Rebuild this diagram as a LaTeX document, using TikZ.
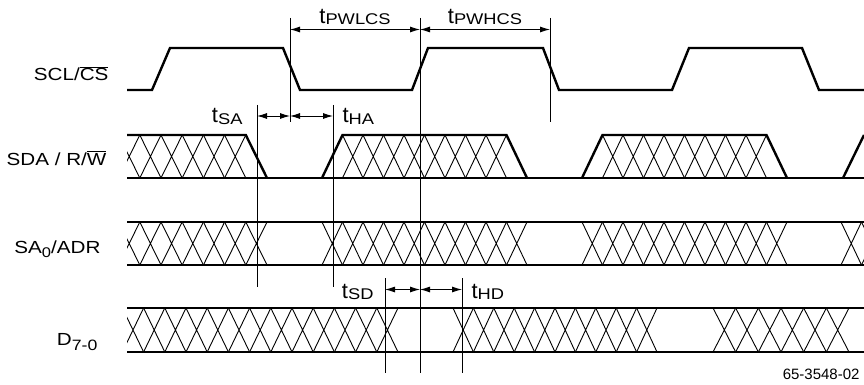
\documentclass[tikz,border=0pt]{standalone}
\usepackage{fontspec}
\setmainfont{Liberation Sans}
\newfontfamily\widefont{Liberation Sans}[FakeStretch=1.18]
\usetikzlibrary{arrows.meta}

\newcommand\siglab[1]{{\fontsize{17.5}{17.5}\widefont #1}}
\newcommand\tlab[1]{{\fontsize{22}{22}\selectfont t}{\fontsize{15.5}{15.5}\widefont\raisebox{-1.5pt}{#1}}}
% X pattern of a bus: from #1 to #2 in #3 steps, between y=#4 and y=#5
\newcommand\busx[5]{%
  \pgfmathsetmacro\pp{(#2-#1)/#3}
  \foreach \i in {1,...,#3}{
    \pgfmathsetmacro\ca{#1+(\i-1)*\pp}
    \pgfmathsetmacro\cb{#1+\i*\pp}
    \draw[hair] (\ca,#4)--(\cb,#5) (\ca,#5)--(\cb,#4);
  }}

\begin{document}
\begin{tikzpicture}[x=1pt, y=-1pt, >={Latex[length=10pt,width=6pt]},
  wave/.style={line width=2.4pt},
  hair/.style={line width=0.9pt}]
\useasboundingbox (0,0) rectangle (864,385);

\node[anchor=base east] (scl) at (112,81){\siglab{SCL/$\overline{\hbox{CS}}$}};
\node[anchor=base east] (sda) at (110,165){\siglab{SDA / R/$\overline{\hbox{W}}$}};
\node[anchor=base east] (sa) at (104,253){\siglab{SA\raisebox{-4pt}{\fontsize{14}{14}\selectfont 0}/ADR}};
\node[anchor=base east] (d) at (101,345){\siglab{D\raisebox{-5pt}{\fontsize{15}{15}\selectfont 7-0}}};

\draw[wave] (127,90)--(152,90)--(170,48)--(283,48)--(300,90)--(412,90)--(428,48)--(543,48)
  --(559,90)--(672,90)--(689,48)--(802,48)--(819,90)--(864,90);

\draw[wave] (127,178)--(864,178);
\draw[wave] (127,135)--(245.8,135)--(267,178);
\draw[wave] (322,178)--(342.5,135)--(506.5,135)--(527,178);
\draw[wave] (582,178)--(602.5,135)--(766.5,135)--(787,178);
\draw[wave] (843,178)--(864,135);

\draw[wave] (127,222)--(864,222) (127,265)--(864,265);
\draw[wave] (127,308)--(864,308) (127,352)--(864,352);

\begin{scope}
\clip (127,0) rectangle (864,385);
\busx{118.6}{245.8}{6}{135}{178}
\busx{342.5}{506.5}{8}{135}{178}
\busx{602.5}{766.5}{8}{135}{178}
\busx{118.6}{267}{7}{222}{265}
\busx{322}{527}{10}{222}{265}
\busx{582}{787}{10}{222}{265}
\busx{841}{882}{2}{222}{265}
\busx{122.4}{398}{13}{308}{352}
\busx{453}{657}{10}{308}{352}
\busx{713}{849}{6}{308}{352}
\end{scope}

\foreach \x/\ya/\yb in {290/18/122, 420/18/373, 550/18/122, 257/105/287,
  333/105/287, 385/278/373, 462/278/373}
{
    \draw[hair] (\x,\ya)--(\x,\yb);
}

\foreach \xa/\xb/\y in {290/420/29.5, 420/550/29.5, 257/290/116, 290/333/116,
  385/420/289.5, 420/462/289.5}
{
    \draw[hair,<->] (\xa,\y)--(\xb,\y);
}

\node[anchor=base] (pwl) at (355,23.5){\tlab{PWLCS}};
\node[anchor=base] (pwh) at (485,23.5){\tlab{PWHCS}};
\node[anchor=base east] (sa-t) at (246,123){\tlab{SA}};
\node[anchor=base west] (ha-t) at (339,123){\tlab{HA}};
\node[anchor=base east] (sd-t) at (377,298){\tlab{SD}};
\node[anchor=base west] (hd-t) at (468,298){\tlab{HD}};

\node[anchor=base east] (fig) at (863,379){\fontsize{15}{15}\selectfont 65-3548-02};

\end{tikzpicture}
\end{document}
